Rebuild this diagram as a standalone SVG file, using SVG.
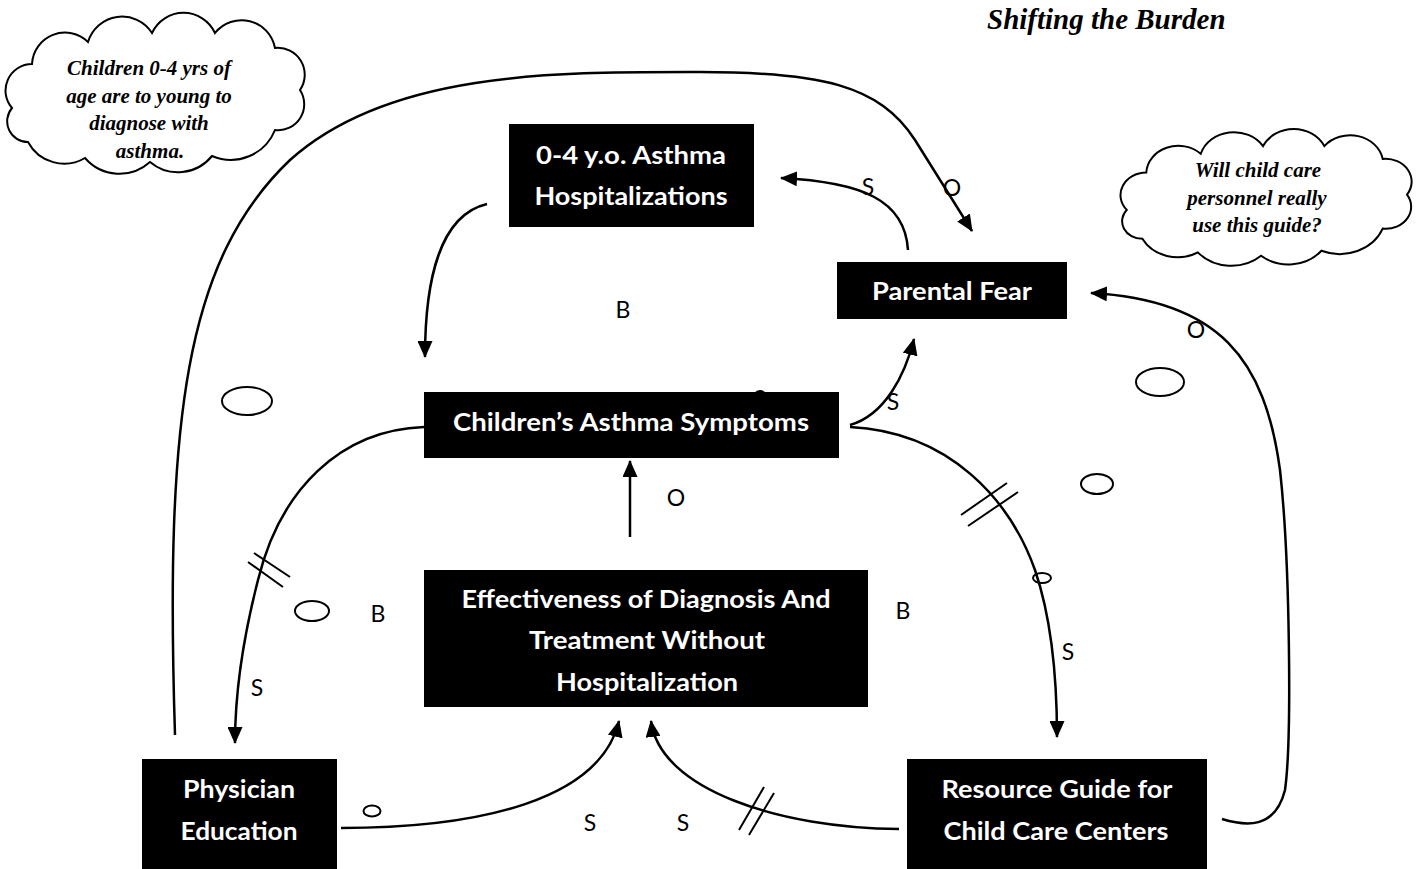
<svg xmlns="http://www.w3.org/2000/svg" width="1420" height="869" viewBox="0 0 1420 869">
<style>
.box{fill:#000}
.bt{font-family:Lato,"Open Sans","Liberation Sans",sans-serif;font-weight:bold;font-size:24px;fill:#fff;text-anchor:middle}
.lbl{font-family:Lato,"Open Sans","Liberation Sans",sans-serif;font-size:23px;fill:#000;text-anchor:middle}
.ct{font-family:"Liberation Serif","Times New Roman",serif;font-weight:bold;font-style:italic;font-size:21px;fill:#000;text-anchor:middle}
.title{font-family:"Liberation Serif","Times New Roman",serif;font-weight:bold;font-style:italic;font-size:29px;fill:#000}
.con{fill:none;stroke:#000;stroke-width:2.5}
.arr{marker-end:url(#ah)}
.hash{stroke:#000;stroke-width:2;fill:none}
.ov{fill:none;stroke:#000;stroke-width:2}
.cloud{fill:#fff;stroke:#000;stroke-width:2}
</style>
<defs>
<marker id="ah" viewBox="0 0 17 15" refX="16" refY="7.5" markerWidth="17" markerHeight="15" orient="auto" markerUnits="userSpaceOnUse">
<path d="M0,0 L17,7.5 L0,15 z" fill="#000"/>
</marker>
<path id="cloudShape" vector-effect="non-scaling-stroke" d="M12,108 A26.6,26.6 0 0 1 32,64 A33,33 0 0 1 88,42 A35.5,35.5 0 0 1 152,33 A34.7,34.7 0 0 1 215,33 A34,34 0 0 1 275,48 A26.9,26.9 0 0 1 300,90 A26,26 0 0 1 275,130 A47.6,47.6 0 0 1 212,156 A43.6,43.6 0 0 1 150,162 A45.6,45.6 0 0 1 85,158 A41,41 0 0 1 28,142 A20.7,20.7 0 0 1 12,108 Z"/>
</defs>
<rect width="1420" height="869" fill="#fff"/>

<text class="title" x="987" y="29">Shifting the Burden</text>

<g id="decor">
<ellipse class="ov" cx="247" cy="401" rx="25" ry="14"/>
<ellipse class="ov" cx="312" cy="611" rx="17" ry="10"/>
<ellipse class="ov" cx="1160" cy="382" rx="24" ry="14"/>
<ellipse class="ov" cx="1097" cy="484" rx="16" ry="10"/>
<ellipse class="ov" cx="1042" cy="578" rx="9" ry="5"/>
<ellipse class="ov" cx="372" cy="811" rx="8.5" ry="5.5"/>
<ellipse class="ov" cx="760" cy="399" rx="7" ry="8"/>
</g>

<g id="connectors">
<path class="con arr" d="M175,735 C165,420 185,260 290,160 C390,70 560,72 700,72 C820,72 880,85 915,140 L972,231"/>
<path class="con arr" d="M908,250 C905,200 862,182 781,178"/>
<path class="con arr" d="M487,204 C440,215 425,280 425,357"/>
<path class="con arr" d="M850,425 C885,415 905,375 914,339"/>
<path class="con arr" d="M850,427 C950,432 1010,500 1035,570 C1052,620 1057,680 1057,737"/>
<path class="con arr" d="M424,427 C340,430 280,490 258,580 C240,650 235,700 235,743"/>
<path class="con arr" d="M630,537 L630,461"/>
<path class="con arr" d="M341,828 C480,828 600,800 619,721"/>
<path class="con arr" d="M899,829 C780,828 660,790 651,721"/>
<path class="con arr" d="M1222,819 C1245,826 1275,830 1285,790 C1292,740 1290,560 1280,470 C1265,360 1220,300 1091,293"/>
<line class="hash" x1="961" y1="515" x2="1007" y2="483"/>
<line class="hash" x1="968" y1="526" x2="1018" y2="492"/>
<line class="hash" x1="254" y1="553" x2="290" y2="577"/>
<line class="hash" x1="248" y1="562" x2="283" y2="587"/>
<line class="hash" x1="739" y1="830" x2="764" y2="787"/>
<line class="hash" x1="749" y1="835" x2="774" y2="793"/>
</g>

<g id="labels">
<text class="lbl" x="868" y="195">S</text>
<text class="lbl" x="952" y="196">O</text>
<text class="lbl" x="623" y="318">B</text>
<text class="lbl" x="893" y="410">S</text>
<text class="lbl" x="676" y="506">O</text>
<text class="lbl" x="378" y="622">B</text>
<text class="lbl" x="903" y="619">B</text>
<text class="lbl" x="1068" y="660">S</text>
<text class="lbl" x="257" y="696">S</text>
<text class="lbl" x="590" y="831">S</text>
<text class="lbl" x="683" y="831">S</text>
<text class="lbl" x="1196" y="338">O</text>
</g>

<g id="cloud-left">
<use href="#cloudShape" class="cloud"/>
<text class="ct" x="149" y="75">Children 0-4 yrs of</text>
<text class="ct" x="149" y="103">age are to young to</text>
<text class="ct" x="149" y="130">diagnose with</text>
<text class="ct" x="150" y="158">asthma.</text>
</g>

<g id="cloud-right">
<use href="#cloudShape" class="cloud" transform="translate(1120,130) scale(0.973,0.85) translate(-5,-14)"/>
<text class="ct" x="1258" y="177">Will child care</text>
<text class="ct" x="1257" y="205">personnel really</text>
<text class="ct" x="1257" y="232">use this guide?</text>
</g>

<g id="node-hosp">
<rect class="box" x="509" y="124" width="245" height="103"/>
<text class="bt" x="631" y="164" textLength="190" lengthAdjust="spacingAndGlyphs">0-4 y.o. Asthma</text>
<text class="bt" x="631" y="205" textLength="193" lengthAdjust="spacingAndGlyphs">Hospitalizations</text>
</g>

<g id="node-fear">
<rect class="box" x="837" y="262" width="230" height="57"/>
<text class="bt" x="952" y="300" textLength="160" lengthAdjust="spacingAndGlyphs">Parental Fear</text>
</g>

<g id="node-symptoms">
<rect class="box" x="424" y="392" width="415" height="66"/>
<text class="bt" x="631" y="431" textLength="356" lengthAdjust="spacingAndGlyphs">Children’s Asthma Symptoms</text>
</g>

<g id="node-effect">
<rect class="box" x="424" y="570" width="444" height="137"/>
<text class="bt" x="646" y="608" textLength="369" lengthAdjust="spacingAndGlyphs">Effectiveness of Diagnosis And</text>
<text class="bt" x="647" y="649" textLength="236" lengthAdjust="spacingAndGlyphs">Treatment Without</text>
<text class="bt" x="647" y="691" textLength="182" lengthAdjust="spacingAndGlyphs">Hospitalization</text>
</g>

<g id="node-physician">
<rect class="box" x="142" y="759" width="195" height="112"/>
<text class="bt" x="239" y="798" textLength="112" lengthAdjust="spacingAndGlyphs">Physician</text>
<text class="bt" x="239" y="840" textLength="117" lengthAdjust="spacingAndGlyphs">Education</text>
</g>

<g id="node-resource">
<rect class="box" x="907" y="759" width="300" height="112"/>
<text class="bt" x="1057" y="798" textLength="231" lengthAdjust="spacingAndGlyphs">Resource Guide for</text>
<text class="bt" x="1056" y="840" textLength="225" lengthAdjust="spacingAndGlyphs">Child Care Centers</text>
</g>
</svg>
